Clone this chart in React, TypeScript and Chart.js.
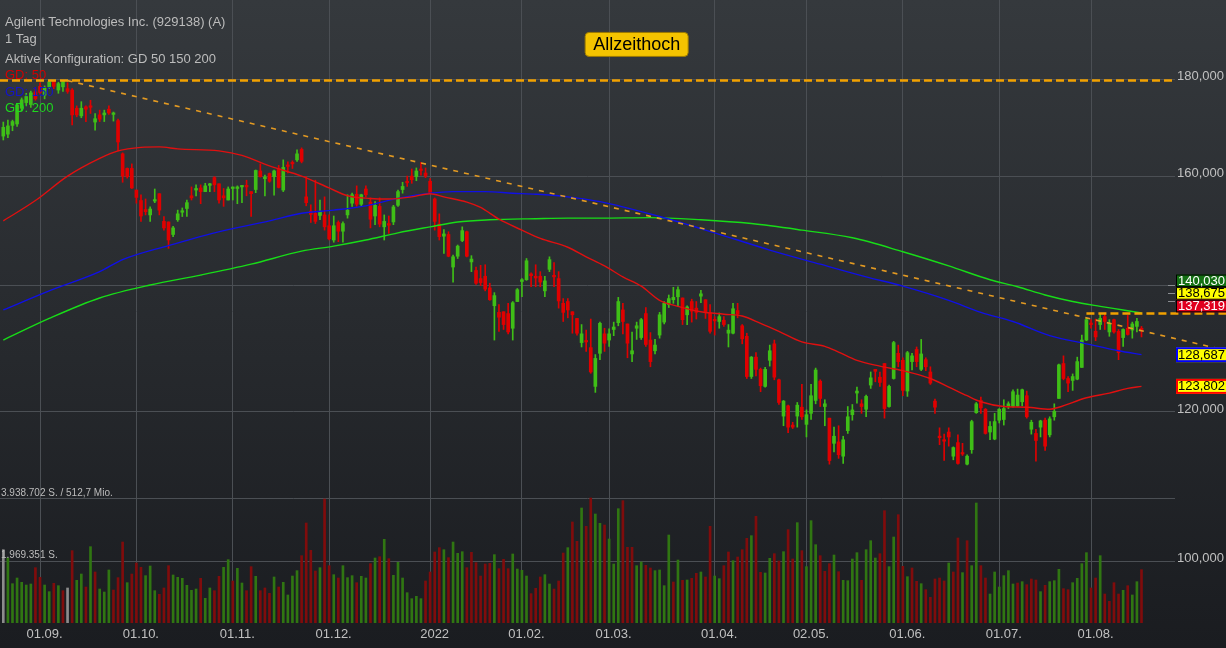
import React, { useEffect, useRef } from "react";
import { Chart, registerables } from "chart.js";

Chart.register(...registerables);

const FONT = '"Liberation Sans", Arial, Helvetica, sans-serif';

// ---------- data (trading day index 0 = 20.08.2021) ----------
const OPEN = [
  168.0,168.4,170.2,170.5,173.8,175.0,174.6,177.3,178.5,176.6,
  178.4,179.6,177.7,178.4,178.0,177.7,173.8,172.2,174.1,174.3,
  170.9,172.4,172.4,173.6,172.5,171.2,164.4,161.5,161.5,157.3,
  155.3,153.6,152.6,155.2,156.6,151.4,151.3,149.0,151.7,153.1,
  153.8,156.2,157.3,157.7,157.0,158.2,159.7,158.5,156.2,155.4,
  157.6,157.6,157.9,158.2,157.0,157.4,161.0,159.5,160.5,159.9,
  161.5,157.3,162.0,162.7,163.2,165.3,156.0,153.3,152.9,152.5,
  152.6,150.6,148.0,151.2,149.6,152.6,154.8,156.5,154.6,157.5,
  155.0,152.4,154.2,150.4,151.0,151.3,154.4,157.4,159.0,160.0,
  159.9,161.3,160.6,159.0,155.6,150.9,148.7,149.0,143.2,145.1,
  147.9,149.5,144.1,142.6,141.2,141.6,139.6,136.6,135.5,135.6,
  135.3,132.9,137.3,140.7,141.0,142.0,141.6,141.6,139.1,142.8,
  141.7,141.2,137.0,137.3,135.6,134.5,130.6,130.9,129.8,123.8,
  128.9,132.0,131.0,132.7,133.8,135.9,133.6,128.8,132.9,131.4,
  135.3,131.0,129.3,131.8,133.9,136.8,137.6,138.1,137.9,135.1,
  137.3,136.2,138.2,137.6,135.4,134.3,134.0,134.2,132.1,132.1,
  135.8,133.3,131.6,125.3,128.3,126.4,123.8,127.8,130.4,124.8,
  119.4,120.9,118.1,119.4,120.7,118.2,119.8,121.7,124.6,120.8,
  119.1,115.5,115.7,113.7,117.3,119.6,122.8,121.2,120.4,124.0,
  126.4,125.2,127.3,120.8,125.0,128.9,127.8,123.1,127.6,129.5,
  126.4,127.9,126.0,121.6,116.5,116.0,117.1,113.7,115.6,114.2,
  112.6,114.6,119.9,121.7,120.4,117.1,116.1,118.8,118.9,120.8,
  120.8,120.9,121.5,122.4,117.5,116.9,117.8,118.8,116.7,119.3,
  122.0,127.3,125.0,124.7,124.9,126.7,131.0,133.6,132.4,133.5,
  134.8,132.3,134.3,132.4,131.4,132.9,132.6,133.2,132.9
];
const HIGH = [
  170.9,171.3,171.3,174.8,176.0,177.0,177.5,178.0,179.3,178.6,
  179.7,179.8,179.4,179.6,179.3,178.0,174.3,175.2,174.3,175.5,
  172.7,173.4,173.4,174.3,173.0,171.5,164.6,161.6,162.4,157.3,
  156.4,155.6,154.1,157.5,156.6,152.3,151.3,150.5,153.5,153.9,
  155.4,157.9,158.3,158.3,158.6,158.6,159.9,158.5,157.6,157.9,
  157.9,158.1,158.1,159.2,157.0,161.2,162.4,160.2,160.6,161.2,
  162.1,163.2,162.8,163.0,165.2,165.6,159.9,154.5,159.2,155.4,
  156.0,152.6,152.4,151.5,151.3,156.4,156.7,158.1,156.5,158.1,
  155.8,155.1,155.8,152.6,152.4,154.4,157.3,158.8,160.0,161.4,
  161.6,162.7,161.6,159.5,155.8,152.8,149.9,149.5,145.3,147.1,
  150.4,149.6,145.2,143.2,143.5,143.6,140.4,138.8,136.8,135.6,
  137.0,137.3,139.5,141.2,144.7,142.2,143.6,142.4,141.6,145.0,
  144.0,142.4,137.8,137.8,135.6,134.5,133.5,132.6,134.4,128.7,
  133.9,132.9,132.8,133.9,138.0,137.0,133.6,132.3,133.9,134.5,
  136.3,132.2,131.1,135.5,137.3,138.4,139.7,139.8,137.9,136.6,
  137.7,137.3,139.2,137.6,136.8,134.8,135.4,134.8,133.5,137.0,
  137.0,133.5,132.1,128.4,129.0,126.6,126.7,130.2,131.0,124.9,
  121.7,121.0,118.5,121.4,124.1,120.3,124.1,126.6,124.8,121.8,
  119.1,117.8,118.0,116.5,120.8,121.1,123.7,121.8,122.5,126.0,
  126.4,126.0,127.3,124.0,130.8,130.2,128.2,129.2,128.9,129.9,
  131.1,128.2,126.8,121.9,117.7,116.8,117.7,115.0,116.7,115.5,
  113.9,118.8,121.4,122.2,120.5,118.6,119.8,120.5,121.8,121.5,
  123.3,123.4,123.4,123.1,118.8,117.5,118.8,119.1,119.3,121.2,
  127.2,128.5,125.3,125.7,128.3,131.8,134.6,134.3,134.4,135.3,
  135.4,134.3,134.4,132.7,132.8,135.0,133.9,134.5,133.2
];
const LOW = [
  167.2,167.7,169.1,170.0,173.2,174.5,174.0,175.5,176.8,175.8,
  178.0,178.0,177.0,177.4,177.0,170.3,172.0,171.8,171.0,172.7,
  169.2,171.0,171.0,172.5,171.1,165.0,158.8,159.6,157.6,154.8,
  151.4,152.6,151.4,154.9,152.6,149.8,146.5,148.6,151.4,152.3,
  152.3,155.4,156.2,154.7,157.0,157.0,157.0,154.8,154.2,155.4,
  155.4,154.7,154.9,156.2,152.3,156.8,159.8,156.2,158.8,156.3,
  157.7,157.0,160.6,161.5,162.9,162.6,154.3,151.2,151.0,151.7,
  149.8,148.0,147.6,147.7,147.6,152.0,154.2,154.2,154.2,156.0,
  150.2,150.8,150.4,148.0,149.2,150.8,154.2,156.7,158.0,158.6,
  159.1,160.2,159.7,156.6,149.8,148.0,145.6,145.0,140.6,144.7,
  147.7,145.0,142.4,140.2,140.0,139.1,137.5,131.0,132.4,132.7,
  132.0,131.0,137.3,138.1,140.9,139.8,139.8,139.8,138.1,142.4,
  139.8,136.2,134.0,134.6,132.1,131.8,129.9,129.2,125.8,122.9,
  127.9,129.2,130.0,131.7,133.3,132.0,128.2,127.6,131.1,131.1,
  130.0,126.8,128.8,131.3,133.6,136.3,137.0,136.5,133.5,133.5,
  133.9,134.4,137.1,134.5,132.1,131.8,132.9,133.2,129.9,132.0,
  134.6,130.4,125.0,125.0,125.4,123.0,123.7,126.9,124.8,121.1,
  118.0,117.0,117.6,117.8,118.9,116.4,118.9,121.2,120.8,118.0,
  112.6,114.3,113.4,112.7,116.9,118.8,121.3,119.8,119.3,123.5,
  124.5,123.8,119.1,120.7,124.9,126.8,122.4,122.3,126.3,126.8,
  126.2,126.2,124.1,119.8,115.3,113.1,115.1,113.2,112.6,113.8,
  112.5,114.1,119.8,119.8,116.8,116.0,116.0,118.4,118.1,120.5,
  120.7,120.8,120.9,119.1,116.8,113.0,116.4,114.5,116.4,118.8,
  122.0,124.8,123.0,123.2,124.8,126.7,130.9,132.9,130.9,132.7,
  132.7,131.6,132.1,127.9,130.0,131.8,131.3,132.3,131.5
];
const CLOSE = [
  169.8,170.1,171.0,174.5,175.6,176.3,177.1,175.8,177.2,178.1,
  179.5,178.5,179.1,179.7,177.4,172.4,172.4,173.8,173.6,174.0,
  171.6,171.5,172.8,172.8,172.8,166.8,160.0,159.9,157.7,155.9,
  152.4,153.2,153.7,155.4,153.5,150.2,148.0,150.2,152.8,153.3,
  154.9,155.8,157.6,157.0,158.1,158.5,158.3,155.4,155.8,157.5,
  157.7,157.9,158.1,157.9,156.6,161.1,159.9,159.8,159.0,161.0,
  157.8,161.7,161.9,162.4,164.4,162.9,154.9,152.7,151.4,153.3,
  150.4,148.2,150.6,149.6,151.0,153.5,156.4,154.6,156.4,156.4,
  151.8,154.4,150.9,151.4,150.7,154.1,157.0,158.0,158.7,159.3,
  161.0,161.1,160.0,156.8,151.4,148.6,149.1,145.1,145.0,146.9,
  149.7,145.1,144.6,140.4,140.5,139.4,137.6,138.3,134.7,133.5,
  132.3,137.1,139.3,141.0,144.3,141.7,141.3,140.6,140.8,144.5,
  141.5,137.4,135.5,135.9,135.1,132.1,132.0,130.7,126.0,128.1,
  133.7,130.5,132.0,133.1,137.3,134.0,130.5,129.3,133.3,134.3,
  130.3,127.6,130.2,135.1,137.0,137.8,138.0,139.3,134.3,136.4,
  135.7,135.5,138.6,135.5,132.4,134.1,134.8,133.5,132.6,136.1,
  135.2,131.2,125.3,128.3,126.4,123.9,126.4,129.3,125.2,121.4,
  121.6,117.8,117.8,121.0,119.3,119.6,122.4,126.3,122.0,121.2,
  113.1,116.5,113.9,116.0,119.3,120.3,123.1,120.8,122.3,125.1,
  126.1,124.4,120.5,123.8,130.6,127.6,123.2,129.0,128.5,127.6,
  128.8,126.8,124.3,120.7,116.3,115.8,116.4,114.9,112.7,114.0,
  113.7,118.6,121.2,120.6,116.9,117.9,118.6,120.4,120.5,121.2,
  123.0,122.5,123.3,119.3,118.5,115.9,118.7,115.1,119.0,120.1,
  127.1,125.0,124.3,125.3,127.6,131.0,134.3,133.5,131.5,134.5,
  134.0,133.7,132.3,129.0,132.7,131.9,133.6,134.0,132.6
];
// volume in thousand shares
const VOLUME_K = [
  2314,2051,1241,1420,1283,1199,1231,1746,1441,1199,
  989,1252,1178,1020,1105,2283,1347,1546,1136,2409,
  1610,1073,978,1673,1041,1431,2556,1273,1546,1894,
  1757,1494,1799,1020,905,1105,1809,1515,1441,1410,
  1189,1031,1073,1410,778,1105,1020,1473,1757,1999,
  1326,1725,1262,1020,1778,1473,1020,1105,936,1452,
  1136,1283,884,1483,1652,2125,3156,2293,1641,1746,
  3913,1809,1525,1420,1809,1431,1494,1273,1473,1420,
  1873,2051,2093,2641,2030,1504,1915,1420,957,768,
  842,768,1326,1610,2241,2378,2314,2062,2556,2199,
  2251,1746,2230,1904,1483,1862,1883,2157,1715,2009,
  1715,2178,1704,1662,1483,926,1094,1452,1525,1231,
  1073,1326,2209,2378,3188,2577,3629,3051,3945,3440,
  3145,3093,2651,1862,3608,3861,2388,2388,1809,1925,
  1820,1736,1652,1673,1178,2777,1294,1988,1347,1357,
  1410,1567,1610,1452,3051,1483,1399,1809,2241,1967,
  2083,2314,2672,2756,3366,1599,1578,2041,2188,1957,
  2251,2946,2020,3167,2283,1778,3230,2472,2125,1631,
  1873,2146,1620,1347,1336,2020,2220,1347,2314,2598,
  2051,2188,3545,1778,2714,3419,1788,1462,1736,1315,
  1241,1052,810,1389,1420,1326,1894,1610,2683,1589,
  2598,1809,3787,1809,1420,915,1610,1136,1494,1652,
  1231,1262,1304,1210,1389,1357,989,1189,1304,1336,
  1694,1084,1052,1273,1410,1873,2220,1105,1420,2125,
  915,684,1273,915,1031,1178,884,1304,1683
];
// volume direction: g = up, r = down, n = unchanged
const VOLUME_DIR = [
  "nggggggrrg","grgrnrggrg","rgggrrrgrr","rgggrrrggg","gggrggrrgg",
  "rggrrgrrrg","rggggrrrrg","rrgrgggrgg","rgrgrggggg","ggrrrrgrgg",
  "grrrrrrgrr","rggggrrrgg","rrrgrrgrrg","grgggrrrgg","rrggggrgrg",
  "rrgrrggrrg","rrrgrrggrr","grrgrgggrr","rgrggggrgg","grrggrrgrr",
  "grrrrrgrrg","rggrrggggg","grgrrrgrgg","grrggggrrg","rrrrgrggr"
].join("");

// moving averages: [trading day index, value]
const GD50 = [
  [0,151.5],[7,155.3],[14,160.0],[21,163.5],[25,165.0],[30,165.7],[34,165.8],[38,165.4],
  [47,165.0],[52,164.1],[58,162.0],[65,160.0],[71,157.7],[75,156.2],[80,155.7],[84,155.6],
  [89,156.0],[93,156.6],[96,156.0],[101,155.0],[104,154.0],[108,151.8],[113,149.8],[117,148.3],
  [123,146.7],[127,145.0],[131,143.4],[135,141.5],[139,139.9],[143,137.5],[147,136.5],[152,135.6],
  [157,135.2],[161,134.9],[165,133.7],[169,132.4],[174,130.7],[179,130.0],[182,129.1],[186,127.8],
  [191,126.9],[196,126.2],[202,125.0],[206,123.7],[210,122.4],[213,121.5],[218,120.8],[223,120.7],
  [228,120.4],[230,120.7],[236,122.1],[241,122.8],[245,123.5],[248,123.8]
];
const GD150 = [
  [0,135.9],[10,139.1],[21,142.4],[26,144.5],[36,147.0],[46,149.3],[58,151.5],[65,152.9],
  [72,153.5],[79,154.3],[86,155.7],[93,156.7],[98,157.0],[105,157.0],[111,156.7],[116,156.5],
  [122,156.1],[130,155.1],[143,152.3],[155,149.3],[167,146.2],[178,143.7],[188,141.5],[196,139.9],
  [206,137.5],[213,135.5],[220,134.0],[228,131.7],[236,130.4],[243,129.3],[248,128.7]
];
const GD200 = [
  [0,131.0],[10,134.5],[21,137.9],[32,140.1],[43,141.8],[54,143.7],[65,146.0],[72,146.9],
  [79,148.0],[86,149.3],[93,150.4],[99,151.3],[106,151.7],[116,151.9],[123,152.0],[130,152.0],
  [141,152.1],[152,151.7],[163,151.0],[174,149.8],[185,148.4],[196,145.9],[206,143.4],[215,141.0],
  [221,139.8],[227,138.4],[233,137.3],[239,136.5],[244,135.9],[248,135.4]
];

const MONTH_IDX = [8, 29, 50, 71, 93, 113, 132, 155, 175, 196, 217, 237];
const MONTH_LBL = ["01.09.", "01.10.", "01.11.", "01.12.", "2022", "01.02.", "01.03.", "01.04.", "02.05.", "01.06.", "01.07.", "01.08."];
const PRICE_TICKS = [100, 120, 140, 160, 180];

const ATH = 179.8;
const ATH_LABEL_IDX = 138;
const TREND_IDX = [14, 248];
const TREND_VAL = [179.75, 132.5];
const RESIST_IDX = 236;
const RESIST_VAL = 135.3;

const LEVELS = [140.03, 138.675, 137.319, 128.687, 123.802];
const LEVEL_TEXT = ["140,030", "138,675", "137,319", "128,687", "123,802"];

const VOL_LINES_K = [3938.702, 1969.351];
const VOL_TEXT = ["3.938.702 S. / 512,7 Mio.", "1.969.351 S."];

const INFO_LINES = ["Agilent Technologies Inc. (929138) (A)", "1 Tag", "Aktive Konfiguration: GD 50 150 200"];
const GD_LABELS = ["GD: 50", "GD: 150", "GD: 200"];

// ---------- styles ----------
const C_UP = "#3fbf17";
const C_DN = "#e00000";
const V_UP = "rgb(48,118,18)";
const V_DN = "rgb(128,12,12)";
const V_N = "rgb(140,140,140)";
const GRID = "#4b4f54";
const TXT = "#c0c0c0";

const noPad = (s: any) => {
  s.paddingTop = 0;
  s.paddingBottom = 0;
  s.paddingLeft = 0;
  s.paddingRight = 0;
};

const overlayPlugin = {
  id: "overlay",
  beforeDraw(chart: any) {
    const { ctx, width, height } = chart;
    ctx.save();
    const g = ctx.createLinearGradient(0, 0, 0, height);
    g.addColorStop(0, "#35393d");
    g.addColorStop(1, "#1a1c20");
    ctx.fillStyle = g;
    ctx.fillRect(0, 0, width, height);
    ctx.restore();
  },
  beforeDatasetsDraw(chart: any) {
    const { ctx, chartArea } = chart;
    const yv = chart.scales.yv;
    ctx.save();
    ctx.strokeStyle = GRID;
    ctx.lineWidth = 1;
    VOL_LINES_K.forEach((v) => {
      const y = Math.round(yv.getPixelForValue(v)) + 0.5;
      ctx.beginPath();
      ctx.moveTo(chartArea.left, y);
      ctx.lineTo(chartArea.right, y);
      ctx.stroke();
    });
    ctx.restore();
  },
  afterDatasetsDraw(chart: any) {
    const { ctx, chartArea, width } = chart;
    const xs = chart.scales.x;
    const ys = chart.scales.y;
    const yv = chart.scales.yv;
    ctx.save();
    // all-time-high line
    const ya = ys.getPixelForValue(ATH);
    ctx.strokeStyle = "#f2a100";
    ctx.lineWidth = 2.5;
    ctx.setLineDash([8, 4]);
    ctx.beginPath();
    ctx.moveTo(chartArea.left, ya);
    ctx.lineTo(chartArea.right, ya);
    ctx.stroke();
    // trend line
    const x1 = xs.getPixelForValue(TREND_IDX[0]);
    const y1 = ys.getPixelForValue(TREND_VAL[0]);
    const x2 = xs.getPixelForValue(TREND_IDX[1]);
    const y2 = ys.getPixelForValue(TREND_VAL[1]);
    const slope = (y2 - y1) / (x2 - x1);
    ctx.strokeStyle = "#e39a22";
    ctx.lineWidth = 1.6;
    ctx.setLineDash([5, 6]);
    ctx.beginPath();
    ctx.moveTo(x1, y1);
    ctx.lineTo(width, y1 + (width - x1) * slope);
    ctx.stroke();
    // resistance
    const yr = ys.getPixelForValue(RESIST_VAL);
    const xr = xs.getPixelForValue(RESIST_IDX);
    ctx.strokeStyle = "#f2a100";
    ctx.lineWidth = 2.5;
    ctx.setLineDash([8, 4]);
    ctx.beginPath();
    ctx.moveTo(xr, yr);
    ctx.lineTo(width, yr);
    ctx.stroke();
    ctx.setLineDash([]);

    // top-left info text
    ctx.textAlign = "left";
    ctx.textBaseline = "alphabetic";
    ctx.font = `13px ${FONT}`;
    ctx.fillStyle = "#bcbcbc";
    const base = [26, 43, 63];
    INFO_LINES.forEach((t, k) => ctx.fillText(t, 5, base[k]));
    const gdCol = ["#d40000", "#1414c8", "#1ed81e"];
    const gdBase = [79, 96, 112];
    GD_LABELS.forEach((t, k) => {
      ctx.fillStyle = gdCol[k];
      ctx.fillText(t, 5, gdBase[k]);
    });

    // Allzeithoch label
    ctx.font = `18px ${FONT}`;
    const tw = ctx.measureText("Allzeithoch").width;
    const bw = tw + 16;
    const bh = 24;
    const cx = xs.getPixelForValue(ATH_LABEL_IDX);
    const cy = ya - 36;
    const bx = cx - bw / 2;
    const by = cy - bh / 2;
    ctx.beginPath();
    const r = 4;
    ctx.moveTo(bx + r, by);
    ctx.lineTo(bx + bw - r, by);
    ctx.quadraticCurveTo(bx + bw, by, bx + bw, by + r);
    ctx.lineTo(bx + bw, by + bh - r);
    ctx.quadraticCurveTo(bx + bw, by + bh, bx + bw - r, by + bh);
    ctx.lineTo(bx + r, by + bh);
    ctx.quadraticCurveTo(bx, by + bh, bx, by + bh - r);
    ctx.lineTo(bx, by + r);
    ctx.quadraticCurveTo(bx, by, bx + r, by);
    ctx.closePath();
    ctx.fillStyle = "#f4c300";
    ctx.fill();
    ctx.strokeStyle = "#9c7a00";
    ctx.lineWidth = 1;
    ctx.stroke();
    ctx.fillStyle = "#000";
    ctx.textAlign = "center";
    ctx.textBaseline = "middle";
    ctx.fillText("Allzeithoch", cx, cy + 1);

    // right side value labels
    const H = 12.6;
    const trueY = LEVELS.map((v) => ys.getPixelForValue(v));
    const pos = trueY.slice();
    for (let it = 0; it < 60; it++) {
      for (let k = 0; k < pos.length - 1; k++) {
        const gap = pos[k + 1] - pos[k];
        if (gap < H) {
          const d = (H - gap) / 2;
          pos[k] -= d;
          pos[k + 1] += d;
        }
      }
    }
    const st = [
      { bg: "#137013", fg: "#ffffff", bd: "#000000", lw: 1 },
      { bg: "#ffff00", fg: "#000000", bd: "#000000", lw: 1 },
      { bg: "#e0001e", fg: "#ffffff", bd: "#000000", lw: 1 },
      { bg: "#ffff00", fg: "#000000", bd: "#0000ff", lw: 2 },
      { bg: "#ffff00", fg: "#000000", bd: "#ff0000", lw: 2 },
    ];
    const x0 = chartArea.right + 1;
    ctx.strokeStyle = "#8a8d91";
    ctx.lineWidth = 1;
    for (let k = 0; k < 3; k++) {
      const ty = Math.round(trueY[k]) + 0.5;
      ctx.beginPath();
      ctx.moveTo(chartArea.right - 7, ty);
      ctx.lineTo(chartArea.right, ty);
      ctx.stroke();
    }
    ctx.font = `13px ${FONT}`;
    ctx.textAlign = "left";
    ctx.textBaseline = "middle";
    LEVELS.forEach((_, k) => {
      const s = st[k];
      const h = k < 3 ? H : 15;
      const top = pos[k] - h / 2;
      ctx.fillStyle = s.bg;
      ctx.fillRect(x0, top, width - x0 + 2, h);
      ctx.strokeStyle = s.bd;
      ctx.lineWidth = s.lw;
      ctx.strokeRect(x0 + s.lw / 2, top + s.lw / 2, width - x0 + 4, h - s.lw);
      ctx.fillStyle = s.fg;
      ctx.fillText(LEVEL_TEXT[k], x0 + 2, pos[k] + 0.5);
    });

    // volume labels
    ctx.font = `10px ${FONT}`;
    ctx.fillStyle = "#bcbcbc";
    ctx.textBaseline = "alphabetic";
    VOL_LINES_K.forEach((v, k) => {
      const y = yv.getPixelForValue(v);
      ctx.fillText(VOL_TEXT[k], 1, y - 2.5);
    });
    ctx.restore();
  },
};

export default function App() {
  const ref = useRef<HTMLCanvasElement | null>(null);
  useEffect(() => {
    if (!ref.current) return;
    const candleCol = OPEN.map((o, i) => (CLOSE[i] >= o ? C_UP : C_DN));
    const volCol = VOLUME_K.map((_, i) => {
      const d = VOLUME_DIR[i];
      return d === "g" ? V_UP : d === "r" ? V_DN : V_N;
    });
    const line = (pts: number[][], color: string) => ({
      type: "line",
      data: pts.map(([x, y]) => ({ x, y })),
      borderColor: color,
      borderWidth: 1.4,
      pointRadius: 0,
      cubicInterpolationMode: "monotone",
      yAxisID: "y",
      order: 1,
    });
    const chart = new Chart(ref.current, {
      type: "bar",
      data: {
        datasets: [
          line(GD50, "#e01010"),
          line(GD150, "#1010e6"),
          line(GD200, "#18dc18"),
          {
            type: "bar",
            data: OPEN.map((o, i) => ({ x: i, y: [o, CLOSE[i]] })),
            backgroundColor: candleCol,
            barThickness: 3,
            minBarLength: 1.5,
            grouped: false,
            yAxisID: "y",
            order: 2,
          },
          {
            type: "bar",
            data: OPEN.map((_, i) => ({ x: i, y: [LOW[i], HIGH[i]] })),
            backgroundColor: candleCol,
            barThickness: 1,
            grouped: false,
            yAxisID: "y",
            order: 3,
          },
          {
            type: "bar",
            data: VOLUME_K.map((v, i) => ({ x: i, y: v })),
            backgroundColor: volCol,
            barThickness: 2,
            grouped: false,
            yAxisID: "yv",
            order: 4,
          },
        ] as any,
      },
      options: {
        animation: false,
        responsive: true,
        maintainAspectRatio: false,
        layout: { padding: 0 },
        plugins: { legend: { display: false }, tooltip: { enabled: false } },
        events: [],
        scales: {
          x: {
            type: "linear",
            min: -0.72,
            max: 255.3,
            offset: false,
            grid: { color: GRID, drawTicks: false, offset: false },
            border: { display: false },
            ticks: {
              color: TXT,
              font: { family: FONT, size: 13 },
              padding: 4,
              maxRotation: 0,
              autoSkip: false,
              labelOffset: 4.5,
              callback: (_v: any, idx: number) => MONTH_LBL[idx] ?? "",
            },
            afterBuildTicks: (s: any) => {
              s.ticks = MONTH_IDX.map((v) => ({ value: v }));
            },
            afterFit: (s: any) => {
              s.height = 25;
              noPad(s);
            },
          },
          y: {
            type: "logarithmic",
            position: "right",
            min: 92.77,
            max: 198.33,
            grid: { color: GRID, drawTicks: false },
            border: { display: false },
            ticks: {
              color: TXT,
              font: { family: FONT, size: 13 },
              padding: 2,
              labelOffset: -3,
              callback: (v: any) => Number(v).toFixed(3).replace(".", ","),
            },
            afterBuildTicks: (s: any) => {
              s.ticks = PRICE_TICKS.map((v) => ({ value: v }));
            },
            afterFit: (s: any) => {
              s.width = 51;
              noPad(s);
            },
          },
          yv: {
            type: "linear",
            display: false,
            min: 0,
            max: 19662,
          },
        },
      } as any,
      plugins: [overlayPlugin as any],
    });
    return () => chart.destroy();
  }, []);
  return (
    <div style={{ position: "fixed", left: 0, top: 0, width: 1226, height: 648, overflow: "hidden" }}>
      <canvas ref={ref} />
    </div>
  );
}
